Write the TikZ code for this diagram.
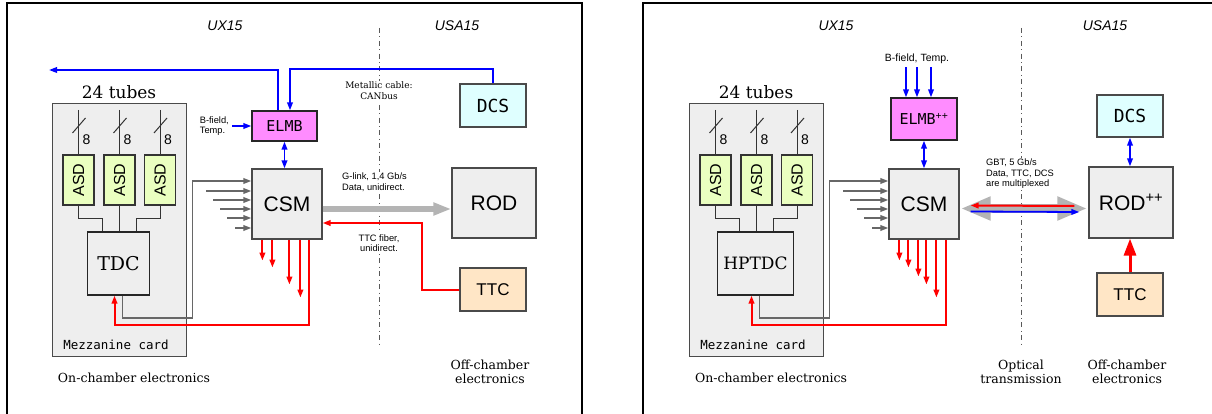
\documentclass[tikz,border=0pt]{standalone}
\usepackage{fontspec}
\setmainfont{DejaVu Serif}
\setsansfont{Liberation Sans}
\setmonofont{DejaVu Sans Mono}
\usepackage{graphicx}
\usetikzlibrary{arrows.meta,calc,positioning}
\definecolor{boxgray}{HTML}{EEEEEE}
\definecolor{edgegray}{HTML}{4A4A4A}
\definecolor{wiregray}{HTML}{676767}
\definecolor{linkgray}{HTML}{B4B4B4}
\definecolor{asdgreen}{HTML}{EAFFC0}
\definecolor{elmbpink}{HTML}{FF8CFF}
\definecolor{dcscyan}{HTML}{DFFFFF}
\definecolor{ttcorange}{HTML}{FFE6C6}
\newcommand{\txtsize}[2]{\fontsize{#1}{#2}\selectfont}
\tikzstyle{box}=[draw=edgegray,line width=1.2pt,fill=boxgray,inner sep=0pt]
\tikzstyle{asd}=[box,draw=black!80,fill=asdgreen,minimum width=31pt,minimum height=50pt]
\tikzstyle{wire}=[draw=black!80,line width=1pt]
\tikzstyle{gwire}=[draw=wiregray,line width=1.8pt]
\tikzstyle{rwire}=[draw=red,line width=2pt]
\tikzstyle{bwire}=[draw=blue,line width=1.8pt]
\tikzstyle{dashdot}=[draw=black!65,line width=0.9pt,dash pattern=on 5pt off 3.5pt on 0.8pt off 3.5pt]
\tikzstyle{small}=[font=\sffamily\txtsize{9.3}{10.5},inner sep=1pt]
\tikzstyle{zone}=[font=\sffamily\itshape\txtsize{14}{16}]
\tikzstyle{caption}=[font=\txtsize{12.5}{14},align=center]

\begin{document}
\begin{tikzpicture}[x=1pt,y=-1pt,>={Triangle[length=8pt,width=5.5pt]}]
\useasboundingbox (0,0) rectangle (1212,414);
\draw[line width=2pt] (7,3) rectangle (582,440);
\draw[line width=1.2pt] (643,3) rectangle (1240,440);

% cavern borders
\foreach \p/\bx/\ux/\sx in {l/379/225/457,r/1021/836/1105} {
	\node[zone] (\p ux) at (\ux,26) {UX15};
	\node[zone] (\p usa) at (\sx,26) {USA15};
	\draw[dashdot] (\bx,28) -- (\bx,345);
}

% mezzanine card and CSM, both versions
\foreach \p/\dx/\tdc/\tw/\tf/\reds in {l/0/TDC/62/19/{11/21,21/28,38/45,49/58},r/637/HPTDC/76/17/{11/21,20/28,30/37,38/45,48/58}} {
\begin{scope}[xshift=\dx]
	\node[box,draw=edgegray,line width=1pt,minimum width=134pt,minimum height=252pt] (\p mezz) at (119,230) {};
	\node[anchor=base,font=\txtsize{17}{17}] (\p tubes) at (119,99) {24 tubes};
	\node[font=\ttfamily\txtsize{12.5}{14}] (\p card) at (116,345) {Mezzanine card};
	\foreach \i/\ax in {1/78.5,2/119.5,3/160} {
		\node[asd] (\p asd\i) at (\ax,180) {\rotatebox{90}{\sffamily\txtsize{16}{16}ASD}};
		\coordinate (\p tube\i) at (\ax,110);
		\draw[wire] (\p tube\i) -- (\p asd\i.north);
		\draw[wire] ($(\p tube\i)+(-6,23)$) -- ++(13,-15);
		\node[font=\sffamily\txtsize{14}{14}] (\p bus\i) at ($(\p tube\i)+(8,30)$) {8};
	}
	\node[box,draw=black!85,minimum width=\tw pt,minimum height=63pt,font=\txtsize{\tf}{\tf}] (\p tdc) at (118.5,263.5) {\tdc};
	\draw[wire] (\p asd1.south) -- ++(0,13) -| ($(\p tdc.north)+(-16,0)$);
	\draw[wire] (\p asd2.south) -- (\p asd2.south |- \p tdc.north);
	\draw[wire] (\p asd3.south) -- ++(0,13) -| ($(\p tdc.north)+(17.5,0)$);
	\node[box,minimum size=70pt,font=\sffamily\txtsize{21}{21}] (\p csm) at (287,204) {CSM};
	\draw[gwire,->] ($(\p tdc.south)+(4,0)$) -- ++(0,22) -| ($(\p csm.west)+(-59,-23)$) -- ($(\p csm.west)+(0,-23)$);
	\foreach \k/\s in {-13/45,-4/38,5/31,14/24,24/16}
		\draw[gwire,->] ($(\p csm.west)+(-\s,\k)$) -- ($(\p csm.west)+(0,\k)$);
	\foreach \rx/\ry in \reds
		\draw[rwire,->] ($(\p csm.south west)+(\rx,0)$) -- ++(0,\ry);
	\draw[rwire,->] ($(\p csm.south west)+(58,0)$) -- ++(0,85) -| ($(\p tdc.south)+(-4,0)$);
	\node[caption] (\p on) at (134,378) {On-chamber electronics};
\end{scope}
}

% present system
\node[box,draw=black!85,fill=elmbpink,minimum width=65pt,minimum height=30pt,font=\ttfamily\txtsize{15}{15}] (lelmb) at (284.5,126) {ELMB};
\node[box,fill=dcscyan,minimum width=66pt,minimum height=43pt,font=\ttfamily\txtsize{18}{18}] (ldcs) at (493,105.5) {DCS};
\node[box,minimum width=84pt,minimum height=70pt,font=\sffamily\txtsize{21}{21}] (lrod) at (494,203) {ROD};
\node[box,fill=ttcorange,minimum width=66pt,minimum height=43pt,font=\sffamily\txtsize{17}{17}] (lttc) at (493,289.5) {TTC};
\node[small,anchor=east,align=left] (lbf) at (230,126) {B-field,\\Temp.};
\coordinate (lcan) at (49,70);
\draw[bwire,->] ($(lelmb.north)+(-6.5,0)$) |- (lcan);
\draw[bwire,->] (ldcs.north) -- ++(0,-14) -| ($(lelmb.north)+(5.5,0)$);
\draw[bwire,->,shorten <=2pt] (lbf.east) -- (lelmb.west);
\draw[bwire,<->] (lelmb.south) -- (lelmb.south |- lcsm.north);
\draw[line width=5.5pt,draw=linkgray,-{Triangle[length=18pt,width=12pt]}] ($(lcsm.east)+(0,5)$) -- ($(lrod.west)+(0,6)$);
\draw[rwire,->] (lttc.west) -- ++(-37,0) |- ($(lcsm.east)+(0,19)$);
\node[fill=white,align=center,inner sep=1pt,font=\txtsize{9}{11}] (lmetal) at (379,91) {Metallic cable:\\CANbus};
\node[small,fill=white,anchor=west,align=left] (lglink) at (341,182) {G-link, 1,4 Gb/s\\Data, unidirect.};
\node[small,fill=white,align=center] (lfiber) at (379,243) {TTC fiber,\\unidirect.};
\node[caption] (loff) at (490,372) {Off-chamber\\electronics};

% upgraded system
\node[box,draw=black!85,fill=elmbpink,minimum width=66pt,minimum height=42pt,font=\ttfamily\txtsize{15}{15}] (relmb) at (924,119) {ELMB\textsuperscript{\sffamily ++}};
\node[box,fill=dcscyan,minimum width=66pt,minimum height=42pt,font=\ttfamily\txtsize{18}{18}] (rdcs) at (1130,116) {DCS};
\node[box,minimum width=84pt,minimum height=71pt,font=\sffamily\txtsize{21}{21}] (rrod) at (1131,202.5) {ROD\textsuperscript{++}};
\node[box,fill=ttcorange,minimum width=66pt,minimum height=43pt,font=\sffamily\txtsize{17}{17}] (rttc) at (1130,294.5) {TTC};
\node[small,font=\sffamily\txtsize{10.5}{12}] (rbf) at (917,59) {B-field, Temp.};
\foreach \bx in {-18,-7,7}
	\draw[bwire,->] ($(relmb.north)+(\bx,-30)$) -- ++(0,30);
\draw[bwire,<->] (relmb.south) -- (relmb.south |- rcsm.north);
\draw[bwire,<->] (rdcs.south) -- (rdcs.south |- rrod.north);
\draw[red,line width=3pt,-{Triangle[length=17pt,width=12pt]}] (rttc.north) -- (rttc.north |- rrod.south);
\draw[line width=9pt,draw=linkgray,{Triangle[length=30pt,width=22pt]}-{Triangle[length=30pt,width=22pt]}] ($(rcsm.east)+(1,4.5)$) -- ($(rrod.west)+(-1,6)$);
\draw[rwire,->] ($(rrod.west)+(-14,3.5)$) -- ($(rcsm.east)+(11,1.5)$);
\draw[bwire,->] ($(rcsm.east)+(11,7.5)$) -- ($(rrod.west)+(-9,9.5)$);
\node[small,fill=white,anchor=west,align=left] (rgbt) at (985,174) {GBT, 5 Gb/s\\Data, TTC, DCS\\are multiplexed};
\node[caption] (ropt) at (1021,372) {Optical\\transmission};
\node[caption] (roff) at (1127,372) {Off-chamber\\electronics};
\end{tikzpicture}
\end{document}
